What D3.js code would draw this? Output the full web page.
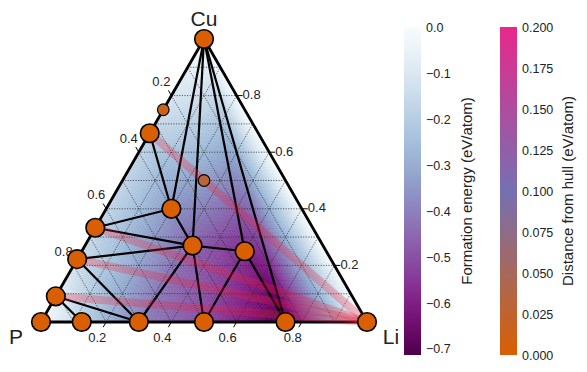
<!DOCTYPE html>
<html>
<head>
<meta charset="utf-8">
<script src="https://cdn.jsdelivr.net/npm/d3@7"></script>
<style>
body { margin: 0; background: #fff; }
text { font-family: "Liberation Sans", Arial, sans-serif; fill: #222; }
</style>
</head>
<body>
<div id="chart"></div>
<script>
// compositions are [Li fraction, Cu fraction], P is the rest
var stableNames = ["P", "LiP7", "Li3P7", "LiP", "Li3P", "Li", "Cu", "CuP10", "Cu2P7", "CuP2", "Cu2P", "LiCu2P2", "Li5Cu4P6", "Li2CuP"];
var stableLi = [0, 0.125, 0.3, 0.5, 0.75, 1, 0, 0, 0, 0, 0, 0.2, 0.33, 0.5];
var stableCu = [0, 0, 0, 0, 0, 0, 1, 0.0909, 0.222, 0.333, 0.667, 0.4, 0.27, 0.25];
var stableEf = [0, -0.17, -0.4, -0.51, -0.715, 0, 0, -0.06, -0.13, -0.16, -0.17, -0.35, -0.46, -0.57];

var unstableNames = ["Cu3P", "LiCu2P"];
var unstableLi = [0, 0.25];
var unstableCu = [0.75, 0.5];
var unstableEhull = [0.012, 0.03];

var tieLines = [
  ["Cu", "LiCu2P2"], ["Cu", "Li5Cu4P6"], ["Cu", "Li2CuP"], ["Cu", "Li3P"],
  ["Cu2P", "LiCu2P2"], ["LiCu2P2", "CuP2"], ["LiCu2P2", "Li5Cu4P6"],
  ["CuP2", "Li5Cu4P6"], ["Cu2P7", "Li5Cu4P6"], ["Cu2P7", "Li3P7"],
  ["CuP10", "Li3P7"], ["CuP10", "LiP7"], ["Li5Cu4P6", "Li3P7"],
  ["Li5Cu4P6", "LiP"], ["Li5Cu4P6", "Li2CuP"], ["Li2CuP", "LiP"], ["Li2CuP", "Li3P"]
];

var facets = [
  ["P", "LiP7", "CuP10"], ["LiP7", "Li3P7", "CuP10"], ["CuP10", "Li3P7", "Cu2P7"],
  ["Cu2P7", "Li3P7", "Li5Cu4P6"], ["Cu2P7", "Li5Cu4P6", "CuP2"], ["CuP2", "Li5Cu4P6", "LiCu2P2"],
  ["CuP2", "LiCu2P2", "Cu2P"], ["Cu2P", "LiCu2P2", "Cu"], ["LiCu2P2", "Li5Cu4P6", "Cu"],
  ["Li5Cu4P6", "Li2CuP", "Cu"], ["Li2CuP", "Li3P", "Cu"], ["Li3P", "Li", "Cu"],
  ["Li5Cu4P6", "Li3P7", "LiP"], ["Li5Cu4P6", "LiP", "Li2CuP"], ["Li2CuP", "LiP", "Li3P"]
];

var bands = [["Cu2P", "Li"], ["CuP2", "Li"], ["Cu2P7", "Li"], ["CuP10", "Li"]];

var axisTicks = [0.2, 0.4, 0.6, 0.8];
var gridSteps = [0.1, 0.2, 0.3, 0.4, 0.5, 0.6, 0.7, 0.8, 0.9];
var efTicks = [0, -0.1, -0.2, -0.3, -0.4, -0.5, -0.6, -0.7];
var ehullTicks = [0, 0.025, 0.05, 0.075, 0.1, 0.125, 0.15, 0.175, 0.2];

var width = 587, height = 372;
var svg = d3.select("#chart").append("svg")
  .attr("width", width)
  .attr("height", height);

var xScale = d3.scaleLinear().domain([0, 1]).range([41, 367]);
var yScale = d3.scaleLinear().domain([0, 1]).range([322, 39]);
function px(li, cu) { return [xScale(li + cu / 2), yScale(cu)]; }

var efColor = d3.scaleSequential(d3.interpolateBuPu).domain([0, -0.715]);
var ehullColor = d3.scaleLinear().domain([0, 0.1, 0.2]).range(["#d95f02", "#7570b3", "#e7298a"]);

var nodeIdx = {};
stableNames.forEach(function(n, i) { nodeIdx[n] = i; });
function nodePx(n) { var i = nodeIdx[n]; return px(stableLi[i], stableCu[i]); }

// clip to the triangle
svg.append("clipPath").attr("id", "tri")
  .append("path")
  .attr("d", d3.line()([px(0, 0), px(1, 0), px(0, 1)]) + "Z");

// formation energy surface, each hull facet split into small triangles
var surf = svg.append("g").attr("clip-path", "url(#tri)");
var tris = [];
facets.forEach(function(f) {
  var v = f.map(function(n) { var i = nodeIdx[n]; return [stableLi[i], stableCu[i], stableEf[i]]; });
  var p = v.map(function(d) { return px(d[0], d[1]); });
  var edge = Math.max(
    Math.hypot(p[0][0] - p[1][0], p[0][1] - p[1][1]),
    Math.hypot(p[1][0] - p[2][0], p[1][1] - p[2][1]),
    Math.hypot(p[0][0] - p[2][0], p[0][1] - p[2][1]));
  var n = Math.max(2, Math.ceil(edge / 4));
  function pt(i, j) {
    var a = i / n, b = j / n;
    return [
      v[0][0] + a * (v[1][0] - v[0][0]) + b * (v[2][0] - v[0][0]),
      v[0][1] + a * (v[1][1] - v[0][1]) + b * (v[2][1] - v[0][1]),
      v[0][2] + a * (v[1][2] - v[0][2]) + b * (v[2][2] - v[0][2])
    ];
  }
  for (var i = 0; i < n; i++) {
    for (var j = 0; j < n - i; j++) {
      tris.push([pt(i, j), pt(i + 1, j), pt(i, j + 1)]);
      if (i + j < n - 1) tris.push([pt(i + 1, j), pt(i + 1, j + 1), pt(i, j + 1)]);
    }
  }
});
surf.selectAll("path").data(tris).enter().append("path")
  .attr("d", function(t) { return d3.line()(t.map(function(d) { return px(d[0], d[1]); })) + "Z"; })
  .attr("fill", function(t) { return efColor((t[0][2] + t[1][2] + t[2][2]) / 3); })
  .attr("stroke", function(t) { return efColor((t[0][2] + t[1][2] + t[2][2]) / 3); })
  .attr("stroke-width", 0.6);

// dotted grid
var grid = svg.append("g")
  .attr("stroke", "#222")
  .attr("stroke-width", 0.7)
  .attr("stroke-dasharray", "1.2,1.4")
  .attr("fill", "none");
gridSteps.forEach(function(v) {
  [[px(0, v), px(1 - v, v)], [px(v, 0), px(v, 1 - v)], [px(1 - v, 0), px(0, 1 - v)]].forEach(function(seg) {
    grid.append("line")
      .attr("x1", seg[0][0]).attr("y1", seg[0][1])
      .attr("x2", seg[1][0]).attr("y2", seg[1][1]);
  });
});

// tie lines
var ties = svg.append("g").attr("stroke", "#000").attr("stroke-width", 2.2);
tieLines.forEach(function(t) {
  var a = nodePx(t[0]), b = nodePx(t[1]);
  ties.append("line")
    .attr("x1", a[0]).attr("y1", a[1])
    .attr("x2", b[0]).attr("y2", b[1]);
});

// outer triangle
svg.append("path")
  .attr("d", d3.line()([px(0, 0), px(1, 0), px(0, 1)]) + "Z")
  .attr("fill", "none")
  .attr("stroke", "#000")
  .attr("stroke-width", 2.8)
  .attr("stroke-linejoin", "round");

// red translucent bands
bands.forEach(function(b) {
  var a = nodePx(b[0]), c = nodePx(b[1]);
  svg.append("line")
    .attr("x1", a[0]).attr("y1", a[1])
    .attr("x2", c[0]).attr("y2", c[1])
    .attr("stroke", "#f0203a")
    .attr("stroke-opacity", 0.28)
    .attr("stroke-width", 8);
});

// ticks and tick labels
var axes = svg.append("g");
axisTicks.forEach(function(v) {
  // bottom: Li fraction
  var b = px(v, 0);
  axes.append("line").attr("x1", b[0]).attr("y1", b[1])
    .attr("x2", b[0] - 3).attr("y2", b[1] + 5.2).attr("stroke", "#000").attr("stroke-width", 1);
  axes.append("text").attr("x", b[0] - 9).attr("y", b[1] + 15)
    .attr("text-anchor", "middle").attr("dy", "0.35em").style("font-size", "13px").text(v.toFixed(1));
  // right: Cu fraction
  var r = px(1 - v, v);
  axes.append("line").attr("x1", r[0]).attr("y1", r[1])
    .attr("x2", r[0] + 6).attr("y2", r[1]).attr("stroke", "#000").attr("stroke-width", 1);
  axes.append("text").attr("x", r[0] + 6).attr("y", r[1] - 1)
    .attr("text-anchor", "start").attr("dy", "0.35em").style("font-size", "13px").text(v.toFixed(1));
  // left: P fraction
  var l = px(0, 1 - v);
  axes.append("line").attr("x1", l[0]).attr("y1", l[1])
    .attr("x2", l[0] - 3).attr("y2", l[1] - 5.2).attr("stroke", "#000").attr("stroke-width", 1);
  axes.append("text").attr("x", l[0] - 10).attr("y", l[1] - 14)
    .attr("text-anchor", "middle").attr("dy", "0.35em").style("font-size", "13px").text(v.toFixed(1));
});

// corner labels
svg.append("text").attr("x", 204).attr("y", 26).attr("text-anchor", "middle").style("font-size", "21px").text("Cu");
svg.append("text").attr("x", 16).attr("y", 344).attr("text-anchor", "middle").style("font-size", "21px").text("P");
svg.append("text").attr("x", 391).attr("y", 344).attr("text-anchor", "middle").style("font-size", "21px").text("Li");

// phases
var nodes = svg.append("g");
stableNames.forEach(function(n, i) {
  var p = px(stableLi[i], stableCu[i]);
  nodes.append("circle").attr("cx", p[0]).attr("cy", p[1]).attr("r", 9.3)
    .attr("fill", ehullColor(0)).attr("stroke", "#000").attr("stroke-width", 1.6);
});
unstableNames.forEach(function(n, i) {
  var p = px(unstableLi[i], unstableCu[i]);
  nodes.append("circle").attr("cx", p[0]).attr("cy", p[1]).attr("r", 5.8)
    .attr("fill", ehullColor(unstableEhull[i])).attr("stroke", "#000").attr("stroke-width", 1.2);
});

// colorbars
var defs = svg.append("defs");
function colorbar(id, x, scale, yScaleBar, ticks, fmt, label, labelX) {
  var dom = yScaleBar.domain();
  var grad = defs.append("linearGradient").attr("id", id)
    .attr("x1", 0).attr("y1", 1).attr("x2", 0).attr("y2", 0);
  d3.range(0, 1.0001, 0.05).forEach(function(t) {
    grad.append("stop").attr("offset", t)
      .attr("stop-color", scale(dom[0] + t * (dom[1] - dom[0])));
  });
  var r = yScaleBar.range();
  svg.append("rect").attr("x", x).attr("y", r[1]).attr("width", 17).attr("height", r[0] - r[1])
    .attr("fill", "url(#" + id + ")");
  ticks.forEach(function(t) {
    svg.append("text").attr("x", x + 22).attr("y", yScaleBar(t) + 1)
      .attr("dy", "0.35em").style("font-size", "12.5px").text(fmt(t));
  });
  svg.append("text")
    .attr("transform", "translate(" + labelX + "," + ((r[0] + r[1]) / 2) + ") rotate(-90)")
    .attr("text-anchor", "middle").attr("dy", "0.35em").style("font-size", "15px").text(label);
}
var efBar = d3.scaleLinear().domain([-0.7153, 0]).range([355, 27]);
colorbar("efGrad", 404, efColor, efBar, efTicks, function(t) { return d3.format(".1f")(t); },
  "Formation energy (eV/atom)", 467);
var ehBar = d3.scaleLinear().domain([0, 0.2]).range([355, 27]);
colorbar("ehGrad", 500, ehullColor, ehBar, ehullTicks, function(t) { return t.toFixed(3); },
  "Distance from hull (eV/atom)", 568);
</script>
</body>
</html>
